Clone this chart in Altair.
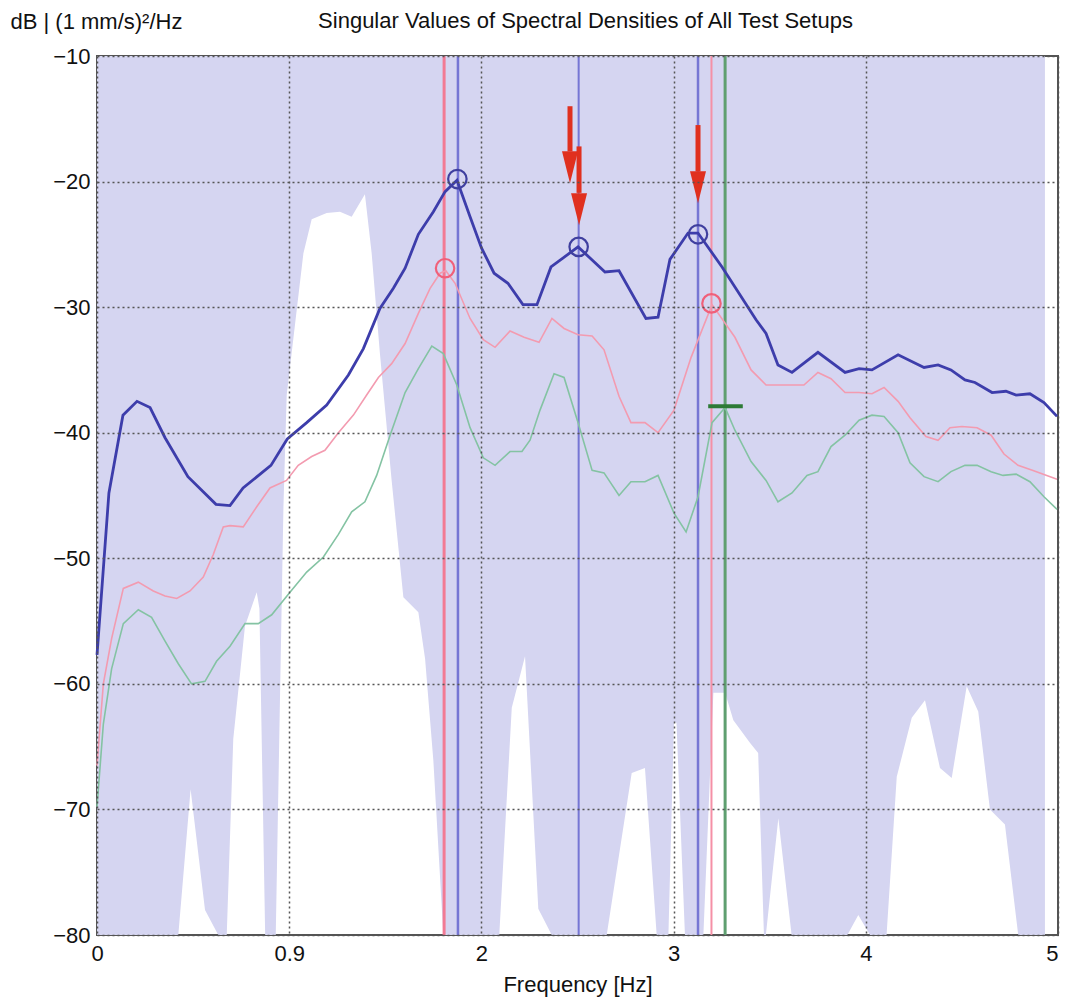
import altair as alt
import pandas as pd

# ---- data ----
# first singular value (dark blue)
sv1_f = [0.000, 0.062, 0.135, 0.208, 0.276, 0.354, 0.473, 0.619, 0.692, 0.760, 0.905, 0.990, 1.091, 1.195,
         1.308, 1.386, 1.472, 1.542, 1.603, 1.672, 1.750, 1.811, 1.873, 1.941, 2.001, 2.066, 2.138, 2.216,
         2.289, 2.362, 2.503, 2.643, 2.716, 2.856, 2.919, 2.981, 3.075, 3.127, 3.252, 3.429, 3.481, 3.543,
         3.616, 3.751, 3.892, 3.965, 4.032, 4.168, 4.303, 4.376, 4.443, 4.516, 4.568, 4.657, 4.729, 4.782,
         4.854, 4.927, 4.995]
sv1_db = [-57.7, -44.8, -38.6, -37.5, -38.0, -40.4, -43.5, -45.7, -45.8, -44.4, -42.6, -40.5, -39.2, -37.8,
          -35.4, -33.3, -30.1, -28.5, -26.9, -24.2, -22.4, -20.8, -19.9, -22.8, -25.3, -27.3, -28.1, -29.8,
          -29.8, -26.8, -25.2, -27.2, -27.1, -30.9, -30.8, -26.2, -24.1, -24.1, -26.8, -31.0, -32.1, -34.6,
          -35.2, -33.6, -35.2, -34.9, -35.0, -33.8, -34.8, -34.6, -35.0, -35.8, -36.0, -36.8, -36.7, -37.0,
          -36.9, -37.6, -38.7]

# second singular value (pink)
sv2_f = [0.000, 0.033, 0.076, 0.137, 0.215, 0.293, 0.354, 0.415, 0.484, 0.553, 0.605, 0.657, 0.692, 0.761,
         0.831, 0.900, 0.986, 1.047, 1.117, 1.186, 1.256, 1.334, 1.403, 1.464, 1.533, 1.603, 1.672, 1.733,
         1.785, 1.815, 1.863, 1.941, 2.010, 2.071, 2.149, 2.222, 2.300, 2.367, 2.430, 2.503, 2.576, 2.638,
         2.716, 2.778, 2.851, 2.919, 3.002, 3.091, 3.200, 3.319, 3.403, 3.481, 3.678, 3.751, 3.819, 3.892,
         3.965, 4.032, 4.095, 4.168, 4.230, 4.313, 4.376, 4.438, 4.500, 4.579, 4.652, 4.719, 4.792, 4.870,
         4.995]
sv2_db = [-66.5, -60.0, -56.4, -52.4, -51.9, -52.6, -53.0, -53.2, -52.6, -51.5, -49.7, -47.5, -47.4, -47.5,
          -45.9, -44.4, -43.8, -42.6, -41.9, -41.4, -40.0, -38.6, -37.0, -35.6, -34.5, -32.9, -30.5, -28.5,
          -27.3, -27.1, -28.1, -30.9, -32.6, -33.2, -31.9, -32.4, -32.8, -30.9, -31.7, -32.2, -32.3, -33.4,
          -37.1, -39.2, -39.2, -40.0, -38.2, -34.0, -29.8, -32.4, -35.0, -36.2, -36.2, -35.2, -35.7, -36.8,
          -36.8, -36.9, -36.4, -37.5, -38.8, -40.3, -40.6, -39.6, -39.5, -39.6, -40.2, -41.7, -42.6, -43.0,
          -43.7]

# third singular value (green)
sv3_f = [0.000, 0.033, 0.076, 0.137, 0.215, 0.284, 0.354, 0.423, 0.492, 0.562, 0.622, 0.692, 0.770, 0.839,
         0.909, 1.004, 1.091, 1.178, 1.256, 1.325, 1.394, 1.455, 1.525, 1.603, 1.672, 1.742, 1.802, 1.872,
         1.941, 2.010, 2.071, 2.149, 2.211, 2.253, 2.305, 2.378, 2.430, 2.503, 2.576, 2.638, 2.716, 2.778,
         2.851, 2.919, 3.002, 3.065, 3.127, 3.200, 3.268, 3.319, 3.403, 3.481, 3.543, 3.616, 3.694, 3.751,
         3.819, 3.892, 3.965, 4.032, 4.095, 4.168, 4.230, 4.303, 4.376, 4.443, 4.516, 4.579, 4.652, 4.714,
         4.782, 4.854, 4.927, 4.995]
sv3_db = [-69.8, -63.2, -58.8, -55.2, -54.1, -54.7, -56.6, -58.4, -60.0, -59.8, -58.2, -57.0, -55.2, -55.2,
          -54.5, -52.7, -51.1, -49.9, -48.1, -46.3, -45.5, -43.4, -40.2, -36.8, -34.9, -33.1, -33.7, -36.2,
          -39.6, -42.0, -42.6, -41.5, -41.5, -40.6, -38.2, -35.3, -35.6, -39.2, -43.0, -43.2, -45.0, -43.9,
          -43.9, -43.4, -46.4, -47.9, -45.1, -39.2, -38.0, -39.8, -42.3, -43.8, -45.5, -44.8, -43.4, -43.1,
          -41.1, -40.2, -39.0, -38.6, -38.7, -40.0, -42.4, -43.5, -43.9, -43.1, -42.6, -42.6, -43.1, -43.4,
          -43.3, -43.9, -45.1, -46.1]

# lower edge of the shaded (lavender) band; the band runs up to -10 dB
band_f = [0.000, 0.423, 0.487, 0.562, 0.631, 0.675, 0.709, 0.770, 0.831, 0.845, 0.875, 0.930, 0.970, 0.987,
          1.040, 1.074, 1.117, 1.195, 1.264, 1.325, 1.394, 1.429, 1.472, 1.533, 1.594, 1.672, 1.707, 1.750,
          1.802, 2.093, 2.158, 2.227, 2.296, 2.366, 2.652, 2.782, 2.851, 2.912, 2.973, 3.002, 3.015, 3.059,
          3.155, 3.207, 3.268, 3.311, 3.398, 3.440, 3.470, 3.480, 3.545, 3.614, 3.904, 3.961, 4.022, 4.108,
          4.161, 4.239, 4.308, 4.386, 4.447, 4.525, 4.585, 4.646, 4.724, 4.793, 4.932]
band_db = [-80, -80, -68.4, -78.0, -80, -80, -64.4, -55.4, -52.7, -54.0, -80, -80, -45.9, -37.0,
           -30.1, -25.7, -23.0, -22.5, -22.4, -22.8, -21.0, -25.7, -33.7, -43.8, -53.1, -54.3, -58.0, -66.1,
           -80, -80, -61.9, -57.8, -77.9, -80, -80, -67.1, -66.7, -80, -80, -63.1, -63.1, -80,
           -80, -60.7, -60.7, -62.9, -64.7, -65.5, -80, -80, -70.7, -80, -80, -78.4, -80, -80,
           -67.4, -62.7, -61.3, -66.7, -67.5, -60.2, -62.2, -70.0, -71.2, -80, -80]

# picked modes: vertical lines
mode_f = [1.806, 1.878, 2.506, 3.127, 3.197, 3.268]
mode_color = ["#f27a94", "#7676d4", "#7676d4", "#7676d4", "#f590a6", "#5f9f70"]
mode_width = [3, 2.5, 2, 2.5, 2, 3]

# peak circles
peak_f = [1.875, 2.506, 3.127, 1.811, 3.197]
peak_db = [-19.8, -25.2, -24.2, -26.9, -29.7]
peak_color = ["#3f3f9f", "#3f3f9f", "#3f3f9f", "#f0607a", "#f0607a"]

# green marker dash
dash_f = [3.18]
dash_f2 = [3.36]
dash_db = [-37.9]

# red arrows
arrow_f = [2.461, 2.508, 3.127]
arrow_tail = [-14.0, -17.2, -15.5]
arrow_base = [-17.6, -20.9, -19.2]
arrow_tip = [-20.1, -23.5, -21.7]

x_ticks = [0, 1, 2, 3, 4, 5]
y_ticks = [-80, -70, -60, -50, -40, -30, -20, -10]

FONT = "Liberation Sans"
FS = 22

# ---- tables ----
sv1 = pd.DataFrame({"f": sv1_f, "db": sv1_db})
sv2 = pd.DataFrame({"f": sv2_f, "db": sv2_db})
sv3 = pd.DataFrame({"f": sv3_f, "db": sv3_db})
band = pd.DataFrame({"f": band_f, "db": band_db, "top": [-10] * len(band_f)})
modes = pd.DataFrame({"f": mode_f, "c": mode_color, "w": mode_width})
peaks = pd.DataFrame({"f": peak_f, "db": peak_db, "c": peak_color})
dash = pd.DataFrame({"f": dash_f, "f2": dash_f2, "db": dash_db})
arrows = pd.DataFrame({"f": arrow_f, "db": arrow_tail, "db2": arrow_base,
                       "mid": [(b + t) / 2 for b, t in zip(arrow_base, arrow_tip)]})

xscale = alt.Scale(domain=[0, 5], nice=False, zero=False)
yscale = alt.Scale(domain=[-80, -10], nice=False, zero=False)

xaxis = alt.Axis(values=x_ticks, labelExpr="datum.value == 1 ? '0.9' : datum.label",
                 labelAlign={"condition": {"test": "datum.value == 5", "value": "right"},
                             "value": "center"},
                 title="Frequency [Hz]", grid=True, gridDash=[2, 3], gridColor="#555555",
                 gridWidth=1.5, ticks=False, domain=False, labelFontSize=FS, titleFontSize=FS,
                 labelFont=FONT, titleFont=FONT, labelColor="#111", titleColor="#111",
                 titleFontWeight="normal", labelPadding=8, titlePadding=10, labelFlush=False,
                 labelOverlap=False, zindex=1)
yaxis = alt.Axis(values=y_ticks, title="dB | (1 mm/s)²/Hz", grid=True, gridDash=[2, 3],
                 gridColor="#555555", gridWidth=1.5, ticks=False, domain=False, labelFontSize=FS,
                 titleFontSize=FS, labelFont=FONT, titleFont=FONT, labelColor="#111", titleColor="#111",
                 titleFontWeight="normal", labelPadding=7, titleAngle=0, titleAlign="left",
                 titleBaseline="alphabetic", titleX=-87, titleY=-28, labelOverlap=False, zindex=1)


def X(field):
    return alt.X(field, type="quantitative", scale=xscale, axis=xaxis)


def Y(field):
    return alt.Y(field, type="quantitative", scale=yscale, axis=yaxis)


area = alt.Chart(band).mark_area(color="#d5d5f1", opacity=1, interpolate="linear").encode(
    x=X("f"), y=Y("db"), y2="top")

vlines = alt.Chart(modes).mark_rule().encode(
    x=X("f"), color=alt.Color("c:N", scale=None), strokeWidth=alt.StrokeWidth("w:Q", scale=None))

l3 = alt.Chart(sv3).mark_line(color="#84c3a3", strokeWidth=1.6).encode(x=X("f"), y=Y("db"))
l2 = alt.Chart(sv2).mark_line(color="#f39bb0", strokeWidth=1.6).encode(x=X("f"), y=Y("db"))
l1 = alt.Chart(sv1).mark_line(color="#3d3dab", strokeWidth=2.8).encode(x=X("f"), y=Y("db"))

circles = alt.Chart(peaks).mark_point(shape="circle", size=340, strokeWidth=2.2, filled=False,
                                      opacity=1).encode(
    x=X("f"), y=Y("db"), color=alt.Color("c:N", scale=None))

gdash = alt.Chart(dash).mark_rule(color="#2d7a36", strokeWidth=4).encode(
    x=X("f"), x2="f2", y=Y("db"))

shafts = alt.Chart(arrows).mark_rule(color="#e0301f", strokeWidth=5).encode(
    x=X("f"), y=Y("db"), y2="db2")
heads = alt.Chart(arrows).mark_point(shape="M -0.5 -1 L 0.5 -1 L 0 1 Z", size=1024, filled=True,
                                     color="#e0301f", opacity=1, strokeWidth=0).encode(
    x=X("f"), y=Y("mid"))

chart = alt.layer(area, vlines, l3, l2, l1, circles, gdash, shafts, heads).properties(
    width=961, height=879,
    autosize=alt.AutoSizeParams(type="none"),
    padding={"left": 89, "top": 48, "right": 2, "bottom": 62},
    title=alt.TitleParams(text="Singular Values of Spectral Densities of All Test Setups",
                          fontSize=FS, fontWeight="normal", font=FONT, color="#111",
                          anchor="middle", dx=8, dy=27),
    background="white",
).configure_view(stroke="#555555", strokeWidth=2)

chart.save("out.html", embed_options={"renderer": "svg", "actions": False})
